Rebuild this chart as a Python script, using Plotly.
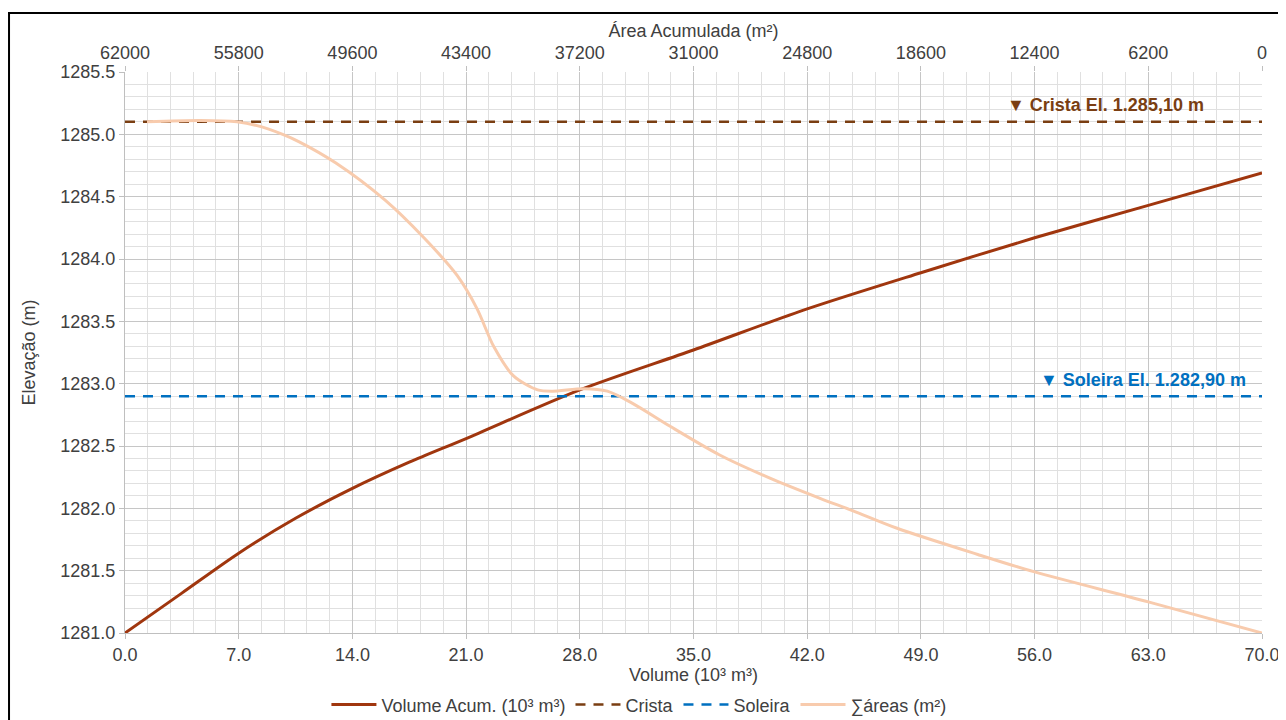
import plotly.graph_objects as go

# Volume acumulado (10^3 m^3) vs elevação (m)
vol_x = [0, 3.5, 7, 10.5, 14, 17.5, 21, 28, 35, 42, 49, 56, 63, 70]
vol_elev = [1281.0, 1281.32, 1281.64, 1281.92, 1282.16, 1282.37, 1282.56,
            1282.95, 1283.27, 1283.60, 1283.89, 1284.17, 1284.43, 1284.69]

# Área acumulada (m^2) vs elevação (m)
area_x = [60800, 57900, 55900, 54800, 53400, 52500, 50500, 47800, 45700, 43900,
          42800, 41900, 40800, 39500, 38700, 37000, 35700, 34300, 32300, 29600,
          26800, 24100, 22300, 19900, 15500, 12400, 6200, 0]
area_elev = [1285.10, 1285.11, 1285.10, 1285.07, 1285.00, 1284.94, 1284.77, 1284.47,
             1284.17, 1283.87, 1283.60, 1283.30, 1283.06, 1282.95, 1282.94, 1282.96,
             1282.94, 1282.84, 1282.66, 1282.43, 1282.24, 1282.08, 1281.98, 1281.84,
             1281.63, 1281.49, 1281.25, 1281.00]

# Reference levels
ref_x = [0, 70]
crista_elev = [1285.10, 1285.10]
soleira_elev = [1282.90, 1282.90]

TXT = "#404040"
FONT = "Liberation Sans, Arial, sans-serif"

fig = go.Figure()
fig.add_trace(go.Scatter(x=vol_x, y=vol_elev, mode="lines", name="Volume Acum. (10³ m³)",
                         line=dict(color="#A0360E", width=3, shape="spline", smoothing=0.8)))
fig.add_trace(go.Scatter(x=ref_x, y=crista_elev, mode="lines", name="Crista",
                         line=dict(color="#7A3E12", width=2.5, dash="10px,8px")))
fig.add_trace(go.Scatter(x=ref_x, y=soleira_elev, mode="lines", name="Soleira",
                         line=dict(color="#0070C0", width=2.5, dash="10px,8px")))
fig.add_trace(go.Scatter(x=area_x, y=area_elev, mode="lines", name="∑áreas (m²)", xaxis="x2",
                         line=dict(color="#F8CBAD", width=3, shape="spline", smoothing=0.8)))

fig.update_layout(
    width=1278, height=712,
    margin=dict(l=117, r=24, t=64, b=87, autoexpand=False),
    paper_bgcolor="white", plot_bgcolor="white",
    font=dict(family=FONT, size=18, color=TXT),
    showlegend=True,
    legend=dict(orientation="h", x=0.452, xanchor="center", y=-0.128, yanchor="middle",
                font=dict(size=18, color=TXT), itemwidth=45, bgcolor="rgba(0,0,0,0)"),
    xaxis=dict(range=[0, 70], tick0=0, dtick=7, tickformat=".1f", automargin=False,
               showgrid=True, gridcolor="#C6C6C6", gridwidth=1,
               minor=dict(dtick=1.4, showgrid=True, gridcolor="#E0E0E0", gridwidth=1),
               ticks="outside", ticklen=5, tickcolor="#BFBFBF",
               showline=True, linecolor="#BFBFBF", zeroline=False,
               title=dict(text="Volume (10³ m³)", standoff=2, font=dict(size=18))),
    xaxis2=dict(overlaying="x", side="top", range=[62000, 0], tick0=0, dtick=6200,
                tickformat="d", showgrid=False, zeroline=False, automargin=False,
                ticks="outside", ticklen=5, tickcolor="#BFBFBF",
                title=dict(text="Área Acumulada (m²)", standoff=0, font=dict(size=18))),
    yaxis=dict(range=[1281, 1285.5], tick0=1281, dtick=0.5, tickformat=".1f", automargin=False,
               showgrid=True, gridcolor="#C6C6C6", gridwidth=1,
               minor=dict(dtick=0.1, showgrid=True, gridcolor="#E0E0E0", gridwidth=1),
               ticks="outside", ticklen=5, tickcolor="#BFBFBF",
               showline=True, linecolor="#BFBFBF", zeroline=False,
               title=dict(text="Elevação (m)", standoff=20, font=dict(size=18))),
    annotations=[
        dict(text="<b>▼ Crista El. 1.285,10 m</b>", xref="paper", yref="paper",
             x=0.9507, y=0.9412, xanchor="right", yanchor="middle", showarrow=False,
             font=dict(size=18, color="#7A3E12", family=FONT)),
        dict(text="<b>▼ Soleira El. 1.282,90 m</b>", xref="paper", yref="paper",
             x=0.9877, y=0.451, xanchor="right", yanchor="middle", showarrow=False,
             font=dict(size=18, color="#0070C0", family=FONT)),
    ],
    shapes=[
        dict(type="rect", xref="paper", yref="paper", x0=-0.1020, x1=1.2, y0=-0.4, y1=1.1052,
             line=dict(color="black", width=2), fillcolor="rgba(0,0,0,0)", layer="below"),
    ],
)

fig.write_html("out.html")
